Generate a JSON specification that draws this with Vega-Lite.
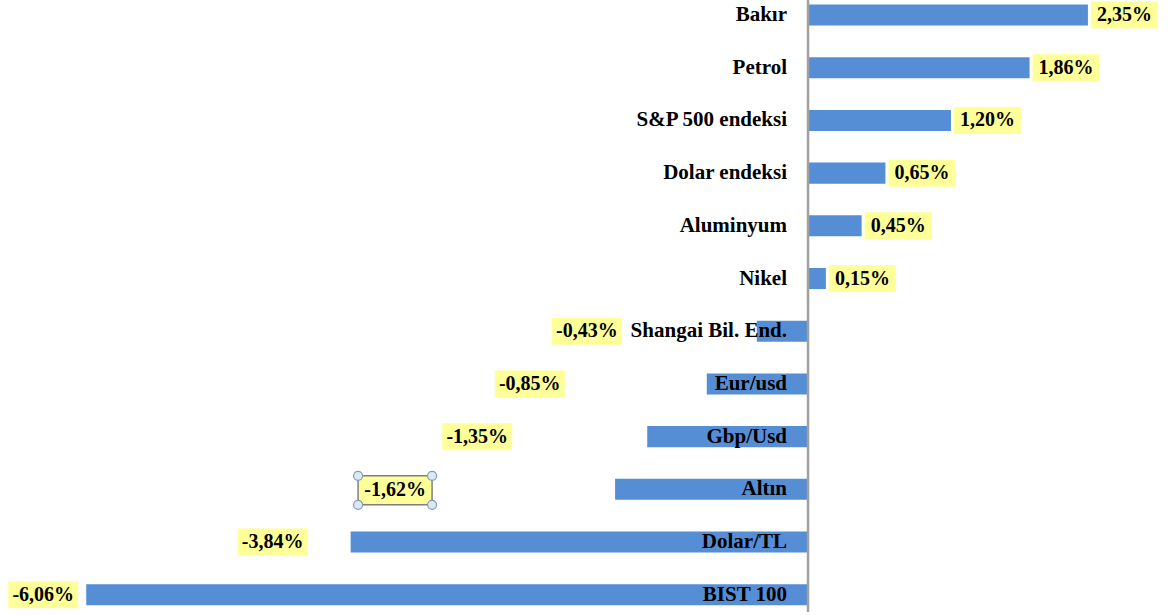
{
  "$schema": "https://vega.github.io/schema/vega-lite/v6.json",
  "width": 1170,
  "height": 612,
  "padding": 0,
  "autosize": {"type": "none"},
  "background": "white",
  "config": {"view": {"stroke": null}, "text": {"font": "Liberation Serif", "fontWeight": "bold", "baseline": "middle", "color": "#000000"}},
  "data": {"values": [
    {"name": "Bakır", "value": 2.35, "label": "2,35%"},
    {"name": "Petrol", "value": 1.86, "label": "1,86%"},
    {"name": "S&P 500 endeksi", "value": 1.20, "label": "1,20%"},
    {"name": "Dolar endeksi", "value": 0.65, "label": "0,65%"},
    {"name": "Aluminyum", "value": 0.45, "label": "0,45%"},
    {"name": "Nikel", "value": 0.15, "label": "0,15%"},
    {"name": "Shangai Bil. End.", "value": -0.43, "label": "-0,43%"},
    {"name": "Eur/usd", "value": -0.85, "label": "-0,85%"},
    {"name": "Gbp/Usd", "value": -1.35, "label": "-1,35%"},
    {"name": "Altın", "value": -1.62, "label": "-1,62%"},
    {"name": "Dolar/TL", "value": -3.84, "label": "-3,84%"},
    {"name": "BIST 100", "value": -6.06, "label": "-6,06%"}
  ]},
  "encoding": {
    "x": {"field": "value", "type": "quantitative", "axis": null, "scale": {"domain": [-6.784, 3.039], "nice": false, "zero": false}}
  },
  "layer": [
    {
      "mark": {"type": "bar", "color": "#558ED5"},
      "encoding": {"y": {"field": "name", "type": "nominal", "sort": null, "axis": null, "scale": {"paddingInner": 0.6, "paddingOuter": 0.1065, "align": 0.4}}}
    },
    {
      "transform": [{"filter": "datum.value > 0"}],
      "mark": {"type": "point", "filled": true, "size": 4, "strokeWidth": 0, "opacity": 1, "color": "#FFFF99", "shape": "M3,-13.5H70V13.5H3Z"},
      "encoding": {"y": {"field": "name", "type": "nominal", "sort": null}}
    },
    {
      "transform": [{"filter": {"field": "name", "oneOf": ["Shangai Bil. End.", "Gbp/Usd"]}}],
      "mark": {"type": "point", "filled": true, "size": 4, "strokeWidth": 0, "opacity": 1, "color": "#FFFF99", "shape": "M-205,-13.5H-135V13.5H-205Z"},
      "encoding": {"y": {"field": "name", "type": "nominal", "sort": null}}
    },
    {
      "transform": [{"filter": {"field": "name", "oneOf": ["Eur/usd"]}}],
      "mark": {"type": "point", "filled": true, "size": 4, "strokeWidth": 0, "opacity": 1, "color": "#FFFF99", "shape": "M-212,-13.5H-142V13.5H-212Z"},
      "encoding": {"y": {"field": "name", "type": "nominal", "sort": null}}
    },
    {
      "transform": [{"filter": {"field": "name", "oneOf": ["Altın"]}}],
      "mark": {"type": "point", "filled": true, "size": 4, "strokeWidth": 1.5, "stroke": "#7F7F7F", "opacity": 1, "fill": "#FFFF99", "shape": "M-257,-13.5H-183V15.5H-257Z"},
      "encoding": {"y": {"field": "name", "type": "nominal", "sort": null}}
    },
    {
      "transform": [{"filter": {"field": "name", "oneOf": ["Dolar/TL"]}}],
      "mark": {"type": "point", "filled": true, "size": 4, "strokeWidth": 0, "opacity": 1, "color": "#FFFF99", "shape": "M-113,-13.5H-43V13.5H-113Z"},
      "encoding": {"y": {"field": "name", "type": "nominal", "sort": null}}
    },
    {
      "transform": [{"filter": {"field": "name", "oneOf": ["BIST 100"]}}],
      "mark": {"type": "point", "filled": true, "size": 4, "strokeWidth": 0, "opacity": 1, "color": "#FFFF99", "shape": "M-78,-13.5H-8V13.5H-78Z"},
      "encoding": {"y": {"field": "name", "type": "nominal", "sort": null}}
    },
    {
      "transform": [{"filter": {"field": "name", "oneOf": ["Altın"]}}],
      "mark": {"type": "point", "filled": true, "size": 4, "strokeWidth": 1.2, "stroke": "#7F9DB9", "opacity": 1, "fill": "#DCE8F3", "shape": "M-261.5,-13.5a4.5,4.5 0 1,0 9,0a4.5,4.5 0 1,0 -9,0M-187.5,-13.5a4.5,4.5 0 1,0 9,0a4.5,4.5 0 1,0 -9,0M-261.5,15.5a4.5,4.5 0 1,0 9,0a4.5,4.5 0 1,0 -9,0M-187.5,15.5a4.5,4.5 0 1,0 9,0a4.5,4.5 0 1,0 -9,0"},
      "encoding": {"y": {"field": "name", "type": "nominal", "sort": null}}
    },
    {
      "mark": {"type": "text", "align": "right", "dx": -21, "fontSize": 21},
      "encoding": {"x": {"datum": 0, "type": "quantitative"}, "y": {"field": "name", "type": "nominal", "sort": null}, "text": {"field": "name"}}
    },
    {
      "transform": [{"filter": "datum.value > 0"}],
      "mark": {"type": "text", "align": "center", "dx": 36.5, "fontSize": 20},
      "encoding": {"y": {"field": "name", "type": "nominal", "sort": null}, "text": {"field": "label"}}
    },
    {
      "transform": [{"filter": {"field": "name", "oneOf": ["Shangai Bil. End.", "Gbp/Usd"]}}],
      "mark": {"type": "text", "align": "center", "dx": -170, "fontSize": 20},
      "encoding": {"y": {"field": "name", "type": "nominal", "sort": null}, "text": {"field": "label"}}
    },
    {
      "transform": [{"filter": {"field": "name", "oneOf": ["Eur/usd"]}}],
      "mark": {"type": "text", "align": "center", "dx": -177, "fontSize": 20},
      "encoding": {"y": {"field": "name", "type": "nominal", "sort": null}, "text": {"field": "label"}}
    },
    {
      "transform": [{"filter": {"field": "name", "oneOf": ["Altın"]}}],
      "mark": {"type": "text", "align": "center", "dx": -220, "dy": 1, "fontSize": 20},
      "encoding": {"y": {"field": "name", "type": "nominal", "sort": null}, "text": {"field": "label"}}
    },
    {
      "transform": [{"filter": {"field": "name", "oneOf": ["Dolar/TL"]}}],
      "mark": {"type": "text", "align": "center", "dx": -78, "fontSize": 20},
      "encoding": {"y": {"field": "name", "type": "nominal", "sort": null}, "text": {"field": "label"}}
    },
    {
      "transform": [{"filter": {"field": "name", "oneOf": ["BIST 100"]}}],
      "mark": {"type": "text", "align": "center", "dx": -43, "fontSize": 20},
      "encoding": {"y": {"field": "name", "type": "nominal", "sort": null}, "text": {"field": "label"}}
    },
    {
      "transform": [{"filter": {"field": "name", "oneOf": ["Bakır"]}}],
      "mark": {"type": "rule", "color": "#A0A0A0", "strokeWidth": 2.5},
      "encoding": {"x": {"datum": 0, "type": "quantitative"}}
    }
  ]
}
